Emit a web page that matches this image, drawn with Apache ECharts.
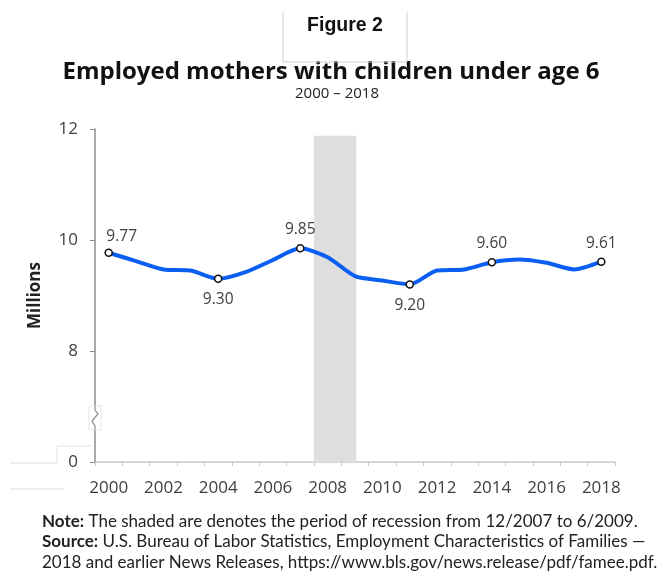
<!DOCTYPE html>
<html>
<head>
<meta charset="utf-8">
<script src="https://cdn.jsdelivr.net/npm/echarts@6/dist/echarts.min.js"></script>
<style>
  html, body { margin: 0; padding: 0; background: #fff; }
  #main { width: 663px; height: 575px; }
</style>
</head>
<body>
<div id="main"></div>
<script>
var years = ['2000','2001','2002','2003','2004','2005','2006','2007','2008','2009',
             '2010','2011','2012','2013','2014','2015','2016','2017','2018'];
var mothers = [9.77, 9.62, 9.47, 9.45, 9.30, 9.42, 9.64, 9.85, 9.69, 9.35,
               9.27, 9.20, 9.45, 9.47, 9.60, 9.65, 9.59, 9.47, 9.61];
// years that get a marker and a value label
var labelled = ['2000','2004','2007','2011','2014','2018'];
var labelBelow = ['2004','2011'];
// recession (shaded), in year units on the hidden value axis
var recession = [2007.5, 2009.05];
var yTicks = [6, 8, 10, 12];   // the 6 is drawn as "0" below the axis break

var myChart = echarts.init(document.getElementById('main'));
var grey = '#404040';
var font = 'Open Sans';

var option = {
    animation: false,
    backgroundColor: '#fff',
    grid: { left: 95, right: 48, top: 129, bottom: 113 },
    xAxis: [{
        type: 'category',
        data: years,
        boundaryGap: true,
        axisLine: { lineStyle: { color: '#c8c8c8', width: 1.5 } },
        axisTick: { show: true, interval: 0, length: 4, lineStyle: { color: '#c8c8c8' } },
        axisLabel: { interval: 1, color: grey, fontFamily: font, fontSize: 17, margin: 18 }
    }, {
        type: 'value',
        min: 1999.5, max: 2018.5,
        show: false
    }],
    yAxis: {
        type: 'value',
        min: yTicks[0], max: yTicks[yTicks.length - 1], interval: 2,
        name: 'Millions',
        nameLocation: 'middle',
        nameGap: 51,
        nameRotate: 90,
        nameTextStyle: { fontFamily: font, fontWeight: 'bold', fontSize: 17, color: '#222' },
        axisLine: { show: true, lineStyle: { color: '#8c8c8c', width: 1.5 } },
        axisTick: { show: true, length: 5, lineStyle: { color: '#8c8c8c' } },
        splitLine: { show: false },
        axisLabel: {
            color: grey, fontFamily: font, fontSize: 17, margin: 17,
            formatter: function (v) { return v === yTicks[0] ? '0' : String(v); }
        }
    },
    series: [{
        name: 'recession',
        type: 'line',
        xAxisIndex: 1,
        data: [],
        silent: true,
        markArea: {
            silent: true,
            itemStyle: { color: '#dedede' },
            data: [[{ xAxis: recession[0], yAxis: 6 }, { xAxis: recession[1], yAxis: 11.88 }]]
        }
    }, {
        name: 'Employed mothers',
        type: 'line',
        data: mothers,
        smooth: 0.25,
        z: 3,
        lineStyle: { color: '#0a5ff2', width: 4 },
        itemStyle: { color: '#fff', borderColor: '#111', borderWidth: 1.5 },
        symbol: 'circle',
        showAllSymbol: true,
        symbolSize: function (v, p) { return labelled.indexOf(years[p.dataIndex]) >= 0 ? 7 : 0; },
        label: {
            show: true,
            color: grey, fontFamily: font, fontSize: 15.5,
            position: 'top', distance: 6,
            formatter: function (p) {
                return labelled.indexOf(years[p.dataIndex]) >= 0 ? p.value.toFixed(2) : '';
            }
        },
        labelLayout: function (p) {
            var yr = years[p.dataIndex];
            if (labelBelow.indexOf(yr) >= 0) return { dy: 39 };
            if (yr === '2000') return { dx: 13, dy: 2 };
            return {};
        }
    }]
};

myChart.setOption(option);

// texts and decorations: titles, axis break, figure box, stray box round the "0"
var p6 = myChart.convertToPixel({ gridIndex: 0 }, [0, 6]);
var ax = 95, by = p6[1] - 44;
myChart.setOption({
    graphic: [
        { type: 'text', x: 345, y: 26,
          style: { text: 'Figure 2', font: 'bold 19.5px "Liberation Sans"', fill: '#111',
                   textAlign: 'center', textVerticalAlign: 'middle' } },
        { type: 'text', x: 331, y: 72,
          style: { text: 'Employed mothers with children under age 6', font: 'bold 24px "Open Sans"',
                   fill: '#111', textAlign: 'center', textVerticalAlign: 'middle' } },
        { type: 'text', x: 337, y: 94,
          style: { text: '2000 \u2013 2018', font: '15px "Open Sans"', fill: '#222',
                   textAlign: 'center', textVerticalAlign: 'middle' } },
        { type: 'rect', shape: { x: ax - 6, y: by - 12, width: 12, height: 24 },
          style: { fill: '#fff', stroke: '#e6e6e6', lineWidth: 1 }, z: 100 },
        { type: 'polyline', shape: { points: [[ax, by - 12], [ax, by - 8], [ax + 3, by - 4], [ax - 3, by + 3], [ax, by + 8], [ax, by + 12]] },
          style: { stroke: '#8c8c8c', lineWidth: 1.2, fill: null }, z: 101 },
        { type: 'polyline', shape: { points: [[283, 12], [283, 62], [407, 62], [407, 12]] },
          style: { stroke: '#d0d0d0', lineWidth: 1, fill: null }, z: 1 },
        { type: 'polyline', shape: { points: [[10, 463], [57, 463], [57, 446], [91, 446]] },
          style: { stroke: '#e0e0e0', lineWidth: 1, fill: null }, z: 1 },
        { type: 'line', shape: { x1: 10, y1: 489, x2: 64, y2: 489 },
          style: { stroke: '#e0e0e0', lineWidth: 1 }, z: 1 },
        { type: 'text', left: 42, top: 511,
          style: {
              text: '{b|Note:} The shaded are denotes the period of recession from 12/2007 to 6/2009.\n' +
                    '{b|Source:} U.S. Bureau of Labor Statistics, Employment Characteristics of Families \u2014\n' +
                    '2018 and earlier News Releases, https://www.bls.gov/news.release/pdf/famee.pdf.',
              font: '17px Lato', fill: '#222', lineHeight: 20.5,
              rich: { b: { fontWeight: 'bold', fontFamily: 'Lato', fontSize: 17, fill: '#222' } }
          } }
    ]
});
</script>
</body>
</html>
